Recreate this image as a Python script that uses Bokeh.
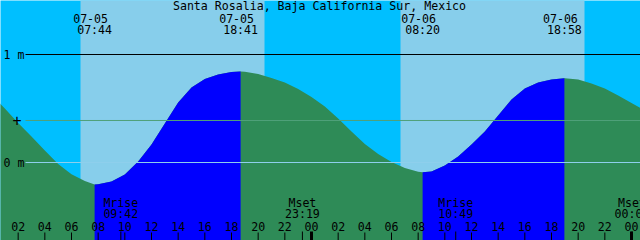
import numpy as np
from bokeh.plotting import figure
from bokeh.models import Range1d, ColumnDataSource
from bokeh.core.properties import value
from bokeh.embed import file_html
from bokeh.resources import INLINE

# ---------------- data ----------------
title = "Santa Rosalia, Baja California Sur, Mexico"

# hours since 07-05 00:00 local time, and water level (m)
hours = list(range(-1, 50))
level_m = [0.722, 0.630, 0.500, 0.366, 0.241, 0.111, -0.014, -0.109, -0.171, -0.202,
           -0.176, -0.111, 0.009, 0.167, 0.361, 0.556, 0.694, 0.773, 0.815, 0.838,
           0.841, 0.819, 0.782, 0.741, 0.681, 0.606, 0.519, 0.407, 0.287, 0.171,
           0.079, 0.005, -0.051, -0.086, -0.083, -0.028, 0.056, 0.167, 0.287, 0.435,
           0.583, 0.685, 0.741, 0.769, 0.781, 0.769, 0.731, 0.685, 0.620, 0.551,
           0.481]

# high / low tides
tide_dates = ["07-05", "07-05", "07-06", "07-06"]
tide_times = ["07:44", "18:41", "08:20", "18:58"]
tide_hours = [7.733, 18.683, 32.333, 42.967]
tide_level = [-0.204, 0.843, -0.090, 0.781]
tide_kind = ["low", "high", "low", "high"]

# daylight
sunrise_h = [6.675, 30.675]
sunset_h = [20.475, 44.475]

# moon events
moon_names = ["Mrise", "Mset", "Mrise", "Mset"]
moon_times = ["09:42", "23:19", "10:49", "00:02"]
moon_hours = [9.700, 23.317, 34.817, 48.033]

# reference levels
ref_levels = [1.0, 0.389, 0.0]
ref_labels = ["1 m", "+", "0 m"]

# hour ticks
tick_hours = list(range(2, 49, 2))
tick_labels = ["%02d" % (h % 24) for h in tick_hours]

# ---------------- style / layout ----------------
W, H = 640, 240
PX_PER_H = W / 48.0
PX_PER_M = 108.0
X0 = 9 / PX_PER_H             # left edge of window, in hours
Y_TOP = 1.5                   # top edge of window, in metres
NIGHT = "#00BFFF"
DAY = "#87CEEB"
RISE = "#0000FF"
FALL = "#2E8B57"
FONT = "DejaVu Sans Mono"
FS = "11.6px"


def X(px):
    return X0 + px / PX_PER_H


def Y(py):
    return Y_TOP - py / PX_PER_M


p = figure(width=W, height=H, output_backend="svg", toolbar_location=None,
           x_axis_type=None, y_axis_type=None, min_border=0,
           x_range=Range1d(X(0), X(W)), y_range=Range1d(Y(H), Y(0)))
p.outline_line_color = None
p.background_fill_color = NIGHT
p.border_fill_color = NIGHT

# daylight
p.quad(left=sunrise_h, right=sunset_h, top=Y(-10), bottom=Y(H + 10),
       fill_color=DAY, line_color=None)

# tide curve
t_all = np.array(hours + tide_hours, dtype=float)
h_all = np.array(level_m + tide_level, dtype=float)
order = np.argsort(t_all)
t_all, h_all = t_all[order], h_all[order]
bottom = Y(H + 10)
p.varea(x=t_all, y1=bottom, y2=h_all, fill_color=FALL)
for i in range(len(tide_hours) - 1):
    if tide_kind[i] == "low" and tide_kind[i + 1] == "high":
        m = (t_all >= tide_hours[i]) & (t_all <= tide_hours[i + 1])
        p.varea(x=t_all[m], y1=bottom, y2=h_all[m], fill_color=RISE)

# reference lines
ref_colors = ["black", "#4FA07A", "#8ECFEC"]
p.segment(x0=[X(25)] * 3, x1=[X(W)] * 3, y0=ref_levels, y1=ref_levels,
          line_color=ref_colors, line_width=1)

# level labels
lab_src = ColumnDataSource(dict(x=[X(3), X(3)], y=[ref_levels[0], ref_levels[2]],
                                t=[ref_labels[0], ref_labels[2]]))
p.text(x="x", y="y", text="t", source=lab_src, text_font=value(FONT),
       text_font_size=FS, text_align="left", text_baseline="middle", text_color="black")
p.text(x=[X(16.5)], y=[ref_levels[1]], text=[ref_labels[1]], text_font=value(FONT),
       text_font_size="15px", text_align="center", text_baseline="middle",
       text_color="black")

# title
p.text(x=[X(W / 2 - 1)], y=[Y(5.5)], text=[title], text_font=value(FONT),
       text_font_size=FS, text_align="center", text_baseline="middle", text_color="black")

# tide labels
off = -4 / PX_PER_H
p.text(x=[t + off for t in tide_hours], y=[Y(17.5)] * 4, text=tide_dates,
       text_font=value(FONT), text_font_size=FS, text_align="center",
       text_baseline="middle", text_color="black")
p.text(x=tide_hours, y=[Y(29.2)] * 4, text=tide_times,
       text_font=value(FONT), text_font_size=FS, text_align="center",
       text_baseline="middle", text_color="black")

# moon labels
p.text(x=moon_hours, y=[Y(202.2)] * 4, text=moon_names,
       text_font=value(FONT), text_font_size=FS, text_align="center",
       text_baseline="middle", text_color="black")
p.text(x=moon_hours, y=[Y(213.3)] * 4, text=moon_times,
       text_font=value(FONT), text_font_size=FS, text_align="center",
       text_baseline="middle", text_color="black")

# hour ticks
reg = [h for h in tick_hours if h % 24 != 0]
mid = [h for h in tick_hours if h % 24 == 0]
p.segment(x0=reg, x1=reg, y0=[Y(232)] * len(reg), y1=[Y(H + 2)] * len(reg),
          line_color="black", line_width=1)
p.segment(x0=moon_hours, x1=moon_hours, y0=[Y(231)] * 4, y1=[Y(H + 2)] * 4,
          line_color="black", line_width=1)
p.segment(x0=mid, x1=mid, y0=[Y(231)] * len(mid), y1=[Y(H + 2)] * len(mid),
          line_color="black", line_width=3)
p.text(x=tick_hours, y=[Y(225.8)] * len(tick_hours), text=tick_labels,
       text_font=value(FONT), text_font_size=FS, text_align="center",
       text_baseline="middle", text_color="black")

open("out.html", "w").write(file_html(p, INLINE))
